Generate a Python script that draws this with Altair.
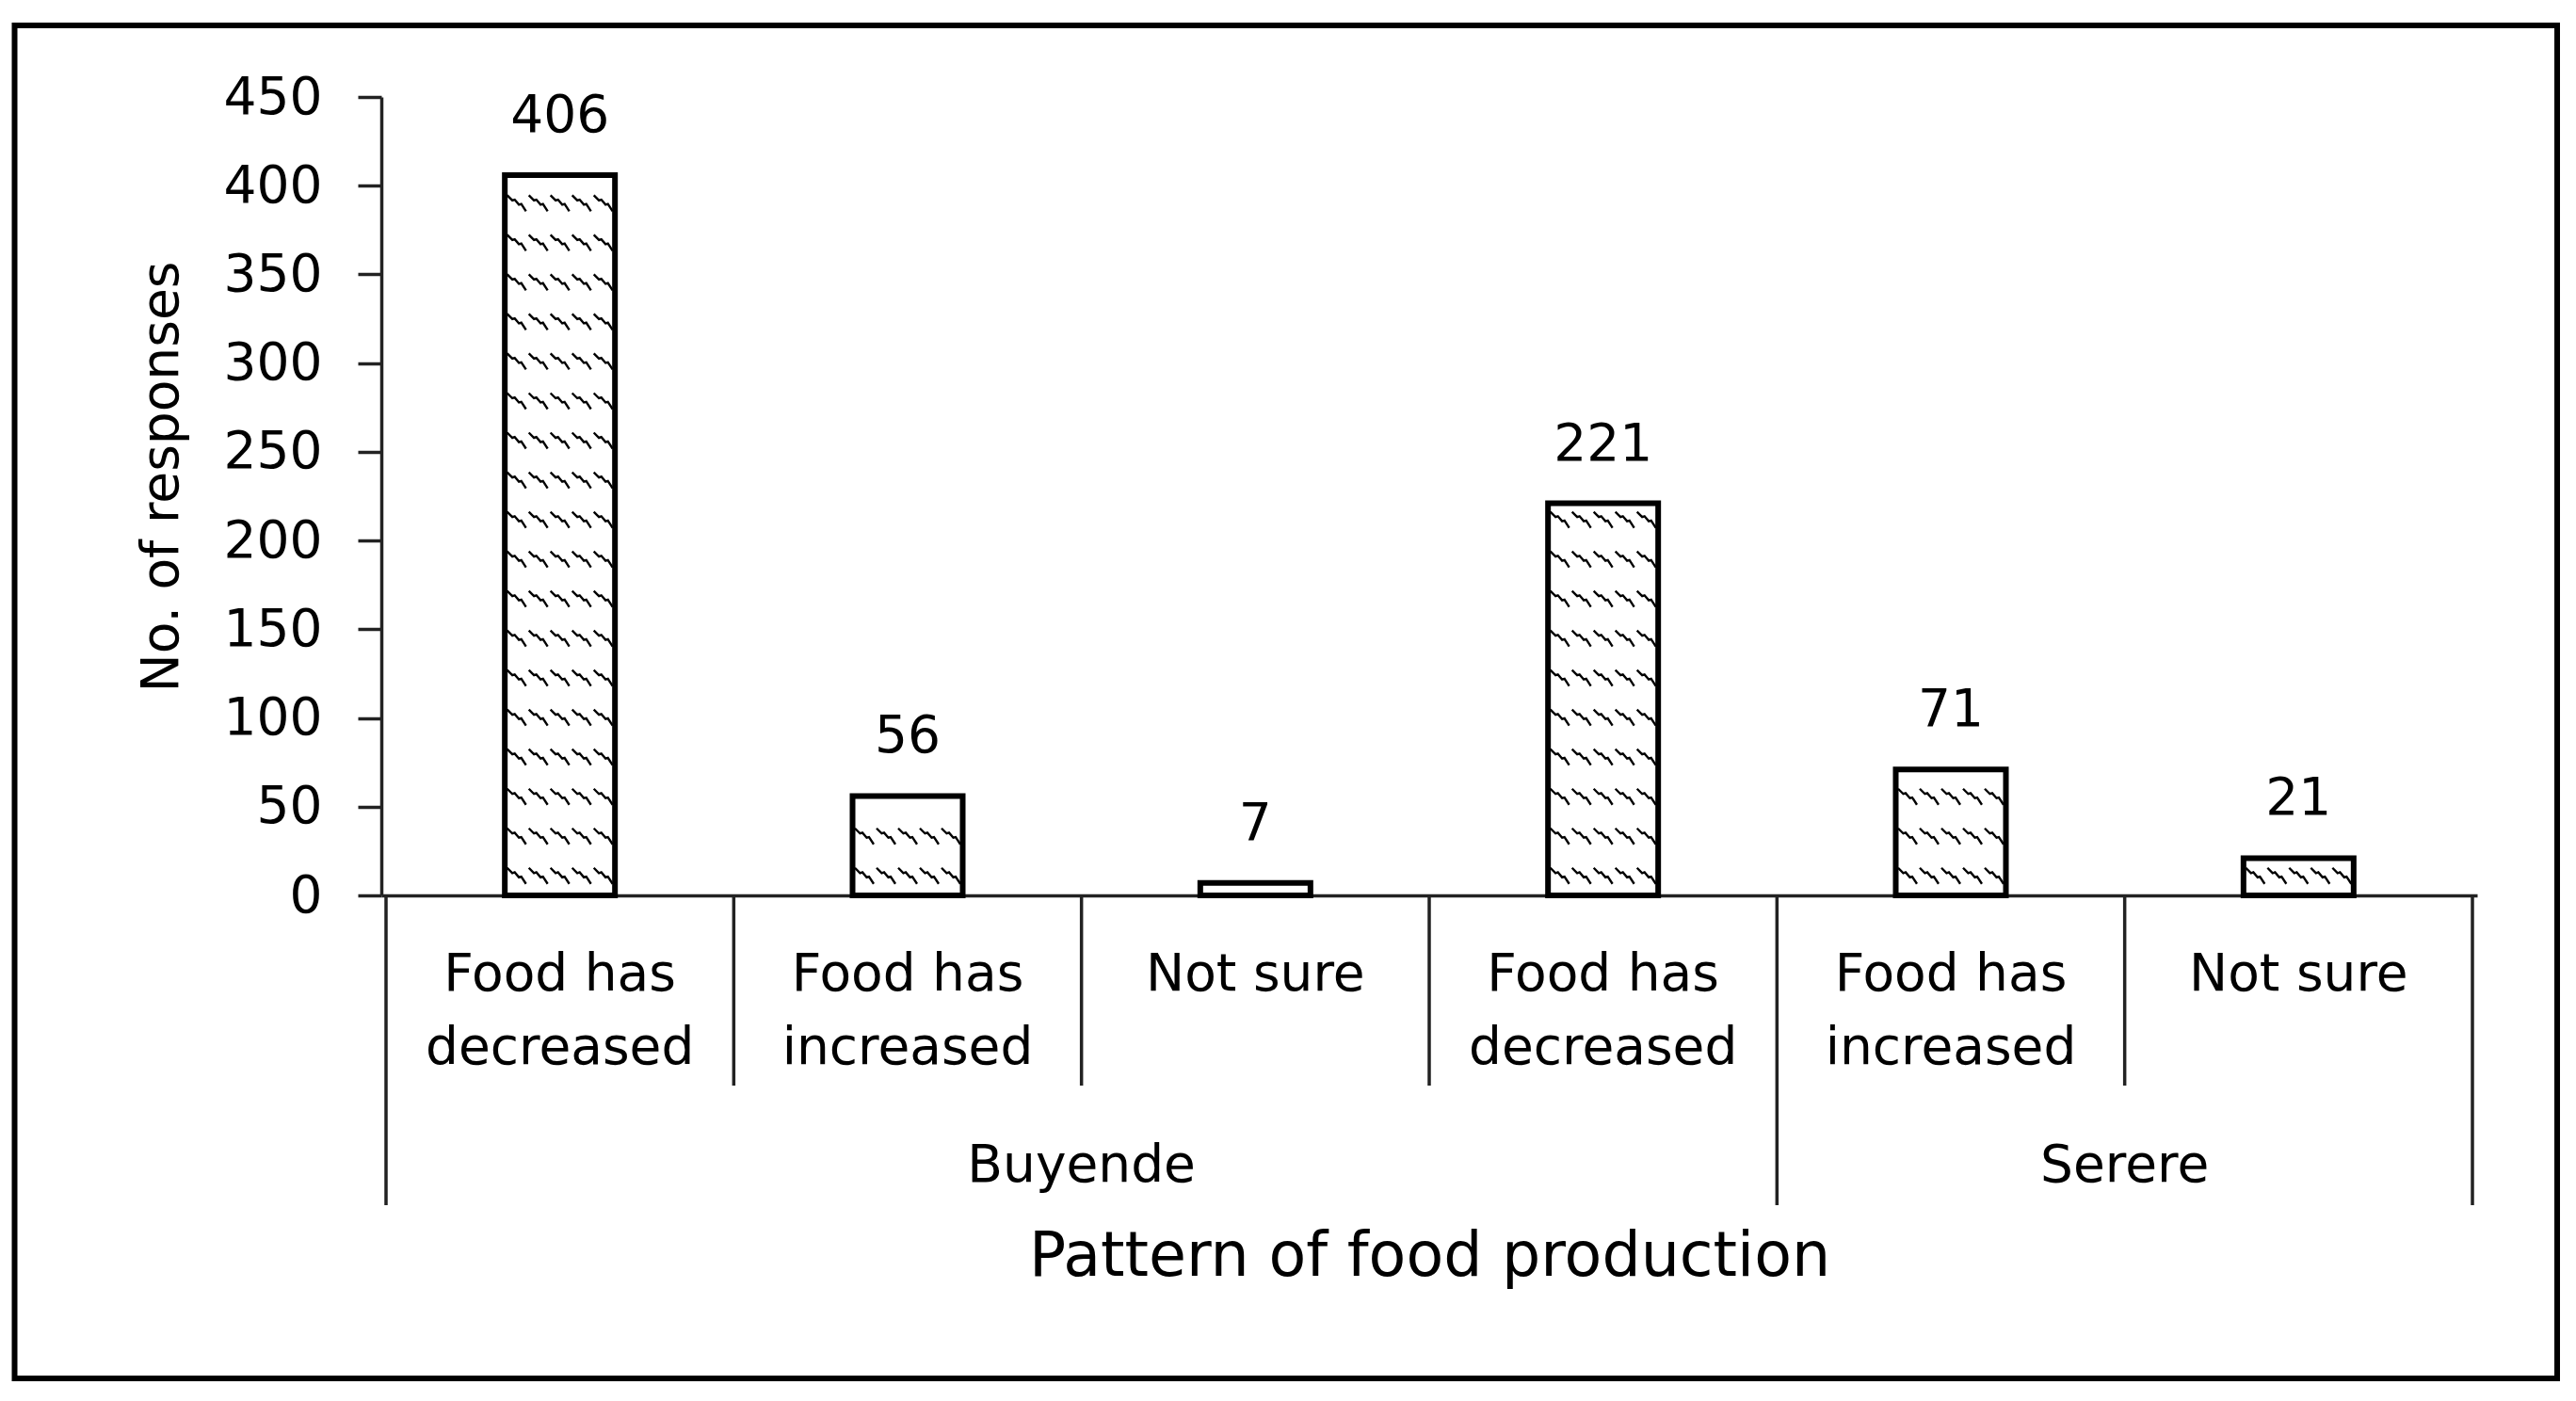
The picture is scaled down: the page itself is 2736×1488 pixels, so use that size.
import altair as alt
import pandas as pd

# ---------------- data ----------------
groups = ["Buyende", "Buyende", "Buyende", "Buyende", "Serere", "Serere"]
categories = ["Food has decreased", "Food has increased", "Not sure",
              "Food has decreased", "Food has increased", "Not sure"]
responses = [406, 56, 7, 221, 71, 21]
y_ticks = [0, 50, 100, 150, 200, 250, 300, 350, 400, 450]
x_title = "Pattern of food production"
y_title = "No. of responses"

# ---------------- layout / style ----------------
FONT = "DejaVu Sans"
W, H = 2226, 848
INK = "#222222"

bars = pd.DataFrame({
    "idx": list(range(len(categories))),
    "group": groups,
    "category": categories,
    "value": responses,
})

# hatch rows (decoration) placed inside each bar
ROW0, ROWSTEP = 11.0, 22.3
rows = []
for i, v in zip(bars["idx"], bars["value"]):
    k = 0
    while ROW0 + ROWSTEP * k + 6 <= v:
        rows.append({"idx": int(i), "yrow": ROW0 + ROWSTEP * k})
        k += 1
hatch = pd.DataFrame(rows)

# group centres from the category order
grp = bars.groupby("group", sort=False)["idx"].agg(["min", "max"]).reset_index()
grp["center"] = (grp["min"] + grp["max"]) / 2

# category / group separators
seps = []
for i in range(len(categories)):
    is_long = i == 0 or groups[i] != groups[i - 1]
    seps.append({"pos": i - 0.5, "long": bool(is_long)})
seps.append({"pos": len(categories) - 0.5, "long": True})
seps = pd.DataFrame(seps)

xscale = alt.Scale(domain=[-0.5, len(categories) - 0.5], nice=False, zero=False)
yscale = alt.Scale(domain=[0, 450], nice=False)

xaxis = alt.Axis(
    title=x_title, labels=False, ticks=False, grid=False,
    domainColor=INK, domainWidth=3.5,
    titleFont=FONT, titleFontSize=65, titleFontWeight="normal", titleColor="black",
    titleBaseline="alphabetic", titleAlign="center", titleX=W / 2, titleY=403,
)
yaxis = alt.Axis(
    title=y_title, values=y_ticks, grid=False,
    domainColor=INK, domainWidth=3.5,
    tickColor=INK, tickWidth=3.5, tickSize=25,
    labelFont=FONT, labelFontSize=55, labelColor="black", labelPadding=38,
    titleFont=FONT, titleFontSize=55, titleFontWeight="normal", titleColor="black",
    titleAngle=270, titleBaseline="alphabetic", titleAlign="center",
    titleX=-217, titleY=403,
)


def X(field):
    return alt.X(field, type="quantitative", scale=xscale, axis=xaxis)


def Y(field):
    return alt.Y(field, type="quantitative", scale=yscale, axis=yaxis, stack=None)


frame = alt.Chart(pd.DataFrame({"a": [0]})).mark_rect(
    fill="white", fillOpacity=0, stroke="black", strokeWidth=6
).encode(
    x=alt.value(-389.5), x2=alt.value(2311), y=alt.value(-76), y2=alt.value(1361)
)

bar_fill = alt.Chart(bars).mark_bar(width=117, color="white", orient="vertical").encode(
    x=X("idx"), y=Y("value")
)

DASH = "M-1,-0.85L-0.45,-0.3L-0.2,-0.38L0.25,0.15L0.5,0.08L1,0.85"
hatch_layers = [
    alt.Chart(hatch).mark_point(
        shape=DASH, size=400, filled=False, stroke="black", strokeWidth=2.4,
        opacity=1, xOffset=dx
    ).encode(x=X("idx"), y=Y("yrow"))
    for dx in [-46, -23, 0, 23, 46]
]

bar_outline = alt.Chart(bars).mark_bar(
    width=117, fillOpacity=0, stroke="black", strokeWidth=6, orient="vertical"
).encode(x=X("idx"), y=Y("value"))

value_text = alt.Chart(bars).mark_text(
    dy=-46, baseline="alphabetic", font=FONT, fontSize=55, color="black"
).encode(x=X("idx"), y=Y("value"), text="value:Q")

cat_text = alt.Chart(bars).transform_calculate(
    label="replace(datum.category, 'has ', 'has\\n')"
).mark_text(
    lineBreak="\n", lineHeight=78, baseline="alphabetic", font=FONT,
    fontSize=55, color="black"
).encode(x=X("idx"), y=alt.value(949), text="label:N")

grp_text = alt.Chart(grp).mark_text(
    baseline="alphabetic", font=FONT, fontSize=55, color="black"
).encode(x=X("center"), y=alt.value(1152), text="group:N")

short_rules = alt.Chart(seps).transform_filter("!datum.long").mark_rule(
    color=INK, strokeWidth=3.5
).encode(x=X("pos"), y=alt.value(H), y2=alt.value(1050))

long_rules = alt.Chart(seps).transform_filter("datum.long").mark_rule(
    color=INK, strokeWidth=3.5
).encode(x=X("pos"), y=alt.value(H), y2=alt.value(1177))

chart = alt.layer(
    frame, bar_fill, *hatch_layers, bar_outline, value_text, cat_text,
    grp_text, short_rules, long_rules
).properties(
    width=W, height=H,
    autosize=alt.AutoSizeParams(type="none"),
    padding={"left": 397, "top": 95, "right": 90, "bottom": 520},
    background="white",
).configure_view(stroke=None)

chart.save("out.html", embed_options={"renderer": "svg", "actions": False})
